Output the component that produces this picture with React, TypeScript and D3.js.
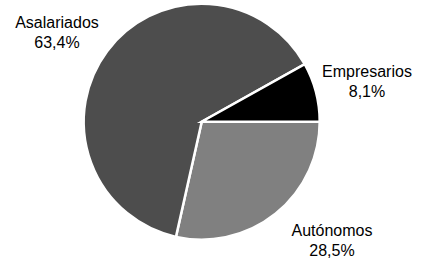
import { useEffect, useRef } from 'react';
import * as d3 from 'd3';

// order follows the chart: first slice starts at 3 o'clock
const categories = ['Autónomos', 'Asalariados', 'Empresarios'];
const shares = [28.5, 63.4, 8.1];
const shareLabels = ['28,5%', '63,4%', '8,1%'];

const sliceColors: Record<string, string> = {
  'Autónomos': '#808080',
  'Asalariados': '#4d4d4d',
  'Empresarios': '#000000',
};

// label anchor (centre x, first baseline y) for each category
const labelPos: Record<string, [number, number]> = {
  'Autónomos': [332, 236],
  'Asalariados': [57, 28],
  'Empresarios': [367, 77],
};

interface Slice {
  name: string;
  value: number;
  label: string;
}

const App = () => {
  const chartRef = useRef<SVGSVGElement>(null);

  useEffect(() => {
    if (!chartRef.current) return;
    const width = 421;
    const height = 261;
    const cx = 201.7;
    const cy = 121.7;
    const radius = 118;

    const data: Slice[] = categories.map((name, i) => ({
      name,
      value: shares[i],
      label: shareLabels[i],
    }));

    const svg = d3.select(chartRef.current);
    svg.selectAll('*').remove();
    svg.attr('width', width).attr('height', height);

    svg.append('rect').attr('width', width).attr('height', height).attr('fill', '#ffffff');

    const g = svg.append('g').attr('transform', `translate(${cx}, ${cy})`);

    const pie = d3.pie<Slice>()
      .sort(null)
      .value(d => d.value)
      .startAngle(Math.PI / 2)
      .endAngle(Math.PI / 2 + 2 * Math.PI);

    const arc = d3.arc<d3.PieArcDatum<Slice>>()
      .innerRadius(0)
      .outerRadius(radius);

    g.selectAll('path')
      .data(pie(data))
      .enter()
      .append('path')
      .attr('d', arc)
      .attr('fill', d => sliceColors[d.data.name])
      .attr('stroke', '#ffffff')
      .attr('stroke-width', 2.5)
      .attr('stroke-linejoin', 'miter');

    // category labels, two lines each
    const labels = svg.selectAll('text.lbl')
      .data(data)
      .enter()
      .append('text')
      .attr('class', 'lbl')
      .attr('text-anchor', 'middle')
      .style('font-family', '"Liberation Sans", Arial, sans-serif')
      .style('font-size', '16px')
      .attr('fill', '#000000');

    labels.append('tspan')
      .attr('x', d => labelPos[d.name][0])
      .attr('y', d => labelPos[d.name][1])
      .text(d => d.name);

    labels.append('tspan')
      .attr('x', d => labelPos[d.name][0])
      .attr('y', d => labelPos[d.name][1] + 20)
      .text(d => d.label);
  }, []);

  return (
    <div style={{ position: 'absolute', left: 0, top: 0 }}>
      <svg ref={chartRef} style={{ display: 'block' }} />
    </div>
  );
};

export default App;
